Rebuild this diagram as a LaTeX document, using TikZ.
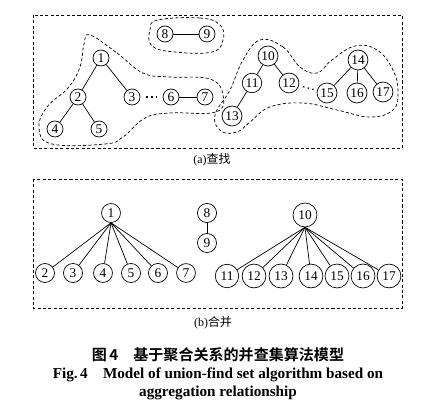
\documentclass[tikz,border=0pt]{standalone}
\usepackage{fontspec}
\setmainfont{Liberation Serif}
\newfontfamily\cjk[BoldFont={Noto Sans CJK SC Bold}]{Noto Sans CJK SC}

\begin{document}
\begin{tikzpicture}[x=0.025cm, y=-0.025cm, line width=0.5pt,
  vtx/.style={circle, draw, inner sep=1pt, minimum size=0.4cm, font=\fontsize{9.5}{9.5}\selectfont},
  bvtx/.style={vtx, inner sep=2pt},
  frame/.style={dash pattern=on 2.2pt off 1.6pt},
  group/.style={dash pattern=on 2.2pt off 1.6pt},
  gap/.style={line width=0.9pt, dash pattern=on 1pt off 2.4pt},
  sub/.style={font=\fontsize{8.5}{8.5}\selectfont}]

\useasboundingbox (0,0) rectangle (422,406);

% (a) find: three sets before merging
\draw[frame] (33,15) rectangle (402,148);

\node[vtx] (a1) at (101,58) {1};
\node[vtx] (a2) at (78,97) {2};
\node[vtx] (a3) at (132,97) {3};
\node[vtx] (a4) at (55,129) {4};
\node[vtx] (a5) at (99,129) {5};
\node[vtx] (a6) at (171,97) {6};
\node[vtx] (a7) at (205,97) {7};
\node[vtx] (a8) at (165,34) {8};
\node[vtx] (a9) at (207,34) {9};
\node[vtx] (a10) at (268,56) {10};
\node[vtx] (a11) at (252,83) {11};
\node[vtx] (a12) at (289,83) {12};
\node[vtx] (a13) at (232,116) {13};
\node[vtx] (a14) at (358,60) {14};
\node[vtx] (a15) at (327,93) {15};
\node[vtx] (a16) at (357,93) {16};
\node[vtx] (a17) at (383,92) {17};

\draw (a1) -- (a2);
\draw (a1) -- (a3);
\draw (a2) -- (a4);
\draw (a2) -- (a5);
\draw (a6) -- (a7);
\draw (a8) -- (a9);
\draw (a10) -- (a11);
\draw (a10) -- (a12);
\draw (a11) -- (a13);
\draw (a14) -- (a15);
\draw (a14) -- (a16);
\draw (a14) -- (a17);
\draw[gap, shorten <=4.3pt, shorten >=3.5pt] (a3) -- (a6);
\draw[gap, shorten <=3pt, shorten >=2.5pt] (a12) -- (a15);

% dashed outlines of the sets
\draw[group] plot[smooth cycle, tension=0.7] coordinates {
  (90,35) (117,53) (143,73) (170,77) (210,79) (223,95) (216,112) (170,113)
  (145,118) (123,137) (105,144) (52,144) (39,128) (47,107) (68,88) (80,67) (84,44)};
\draw[group] plot[smooth cycle, tension=0.7] coordinates {
  (158,20) (200,18) (220,25) (223,40) (212,52) (175,52) (152,46) (150,30)};
\draw[group] plot[smooth cycle, tension=0.7] coordinates {
  (260,40) (283,47) (300,67) (317,73) (332,60) (355,46) (377,50) (393,70)
  (398,92) (393,110) (370,117) (337,110) (303,103) (270,107) (250,122)
  (237,132) (221,131) (215,115) (230,90) (243,60)};

\node[sub] (capa) at (212,160) {(a){\cjk 查找}};

% (b) union: every node hangs from its root
\draw[frame] (33,179) rectangle (402,308);

\node[bvtx] (b1) at (111,213) {1};
\node[bvtx] (b2) at (45,273) {2};
\node[bvtx] (b3) at (73,273) {3};
\node[bvtx] (b4) at (103,273) {4};
\node[bvtx] (b5) at (131,273) {5};
\node[bvtx] (b6) at (158,273) {6};
\node[bvtx] (b7) at (186,273) {7};
\node[bvtx] (b8) at (207,213) {8};
\node[bvtx] (b9) at (207,243) {9};
\node[bvtx] (b10) at (305,215) {10};
\node[bvtx] (b11) at (227,276) {11};
\node[bvtx] (b12) at (254,276) {12};
\node[bvtx] (b13) at (281,276) {13};
\node[bvtx] (b14) at (311,276) {14};
\node[bvtx] (b15) at (337,276) {15};
\node[bvtx] (b16) at (363,276) {16};
\node[bvtx] (b17) at (389,276) {17};

\draw (b1.south) -- (b2);
\draw (b1.south) -- (b3);
\draw (b1.south) -- (b4);
\draw (b1.south) -- (b5);
\draw (b1.south) -- (b6);
\draw (b1.south) -- (b7);
\draw (b8) -- (b9);
\draw (b10.south) -- (b11);
\draw (b10.south) -- (b12);
\draw (b10.south) -- (b13);
\draw (b10.south) -- (b14);
\draw (b10.south) -- (b15);
\draw (b10.south) -- (b16);
\draw (b10.south) -- (b17);

\node[sub] (capb) at (213,323) {(b){\cjk 合并}};

% figure caption
\node[font=\cjk\bfseries\fontsize{10.7}{10.7}\selectfont] (cap1) at (218,355) {图\,4\quad 基于聚合关系的并查集算法模型};
\node[font=\bfseries\fontsize{10.8}{10.8}\selectfont] (cap2) at (218,375) {Fig.\,4\quad Model of union-find set algorithm based on};
\node[font=\bfseries\fontsize{10.8}{10.8}\selectfont] (cap3) at (218,393) {aggregation relationship};

\end{tikzpicture}
\end{document}
